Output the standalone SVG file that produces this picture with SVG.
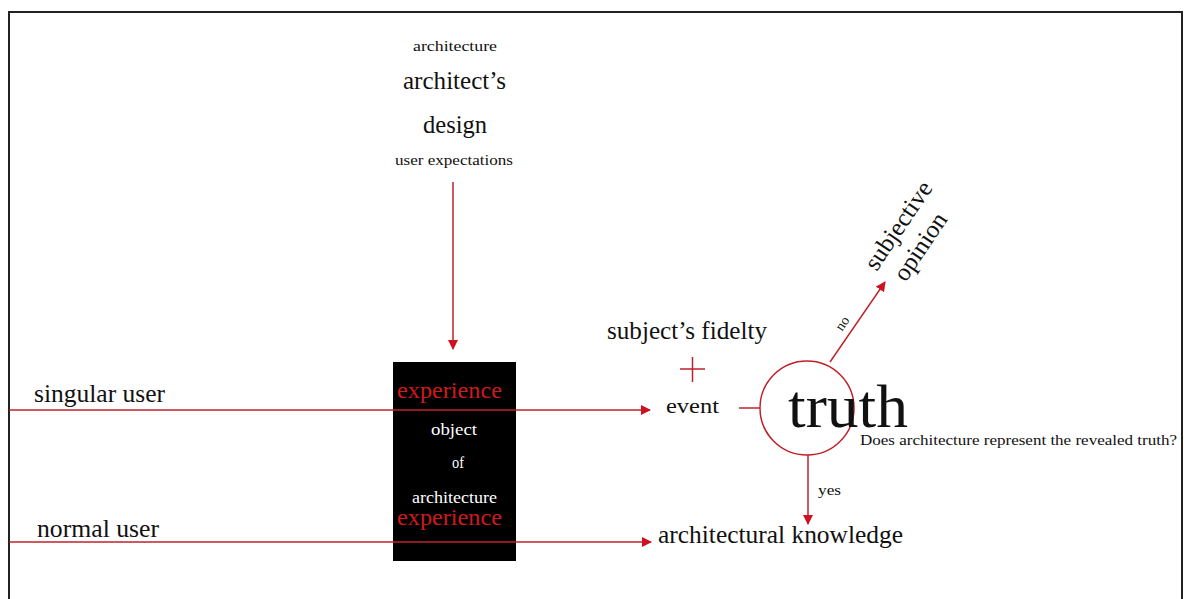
<svg xmlns="http://www.w3.org/2000/svg" width="1184" height="599" viewBox="0 0 1184 599">
<defs>
<marker id="ah" viewBox="0 0 10 10" refX="9" refY="5" markerWidth="10" markerHeight="10" markerUnits="userSpaceOnUse" orient="auto"><path d="M0,0 L10,5 L0,10 z" fill="#d01020"/></marker>
<style>
text{font-family:"Liberation Serif","Times New Roman",serif;fill:#111}
.c{text-anchor:middle}
.red{fill:#d01a1a}
.wh{fill:#fff}
.ln{stroke:#c0202a;stroke-width:1.5;fill:none}
</style>
</defs>
<rect x="0" y="0" width="1184" height="599" fill="#fff"/>
<path d="M9,610 V12 H1182 V610" fill="none" stroke="#222" stroke-width="2"/>
<g id="top">
<text x="413" y="51" font-size="15" textLength="84" lengthAdjust="spacingAndGlyphs">architecture</text>
<text x="403" y="89" font-size="25" textLength="103" lengthAdjust="spacingAndGlyphs">architect’s</text>
<text x="423" y="133" font-size="25" textLength="64" lengthAdjust="spacingAndGlyphs">design</text>
<text x="395" y="165" font-size="15" textLength="118" lengthAdjust="spacingAndGlyphs">user expectations</text>
</g>
<g id="box">
<rect x="393" y="362" width="123" height="199" fill="#000"/>
<text class="red" x="397" y="398" font-size="24" textLength="105" lengthAdjust="spacingAndGlyphs">experience</text>
<text class="wh" x="431" y="435" font-size="16" textLength="46" lengthAdjust="spacingAndGlyphs">object</text>
<text class="wh" x="452" y="468" font-size="16" textLength="12" lengthAdjust="spacingAndGlyphs">of</text>
<text class="wh" x="412" y="503" font-size="16" textLength="85" lengthAdjust="spacingAndGlyphs">architecture</text>
<text class="red" x="397" y="525" font-size="24" textLength="105" lengthAdjust="spacingAndGlyphs">experience</text>
</g>
<g id="connectors">
<line class="ln" x1="9" y1="410" x2="650" y2="410" marker-end="url(#ah)"/>
<line class="ln" x1="9" y1="542" x2="651" y2="542" marker-end="url(#ah)"/>
<line class="ln" x1="453" y1="182" x2="453" y2="349" marker-end="url(#ah)"/>
<line class="ln" x1="739" y1="408" x2="760" y2="408" stroke-width="2.5"/>
<line class="ln" x1="830" y1="362" x2="885" y2="282" marker-end="url(#ah)"/>
<line class="ln" x1="808" y1="455" x2="808" y2="524" marker-end="url(#ah)"/>
<text class="c" x="846" y="326" font-size="14" transform="rotate(-55 846 326)">no</text>
<text x="818" y="495" font-size="15" textLength="23" lengthAdjust="spacingAndGlyphs">yes</text>
</g>
<g id="singular"><text x="34" y="402" font-size="25" textLength="131" lengthAdjust="spacingAndGlyphs">singular user</text></g>
<g id="normal"><text x="37" y="537" font-size="25" textLength="122" lengthAdjust="spacingAndGlyphs">normal user</text></g>
<g id="fidelity">
<text x="607" y="339" font-size="25" textLength="160" lengthAdjust="spacingAndGlyphs">subject’s fidelty</text>
<path class="ln" d="M680,369 H705 M692.5,357 V382" stroke-width="2"/>
<text x="666" y="413" font-size="22" textLength="53" lengthAdjust="spacingAndGlyphs">event</text>
</g>
<g id="truth">
<circle cx="807" cy="408" r="47" fill="none" stroke="#c0202a" stroke-width="1.5"/>
<text x="788" y="427" font-size="62" textLength="120" lengthAdjust="spacingAndGlyphs">truth</text>
<text x="860" y="445" font-size="15" textLength="317" lengthAdjust="spacingAndGlyphs">Does architecture represent the revealed truth?</text>
</g>
<g id="opinion">
<text class="c" x="905" y="230" font-size="25" transform="rotate(-56 905 230)">subjective</text>
<text class="c" x="927" y="251" font-size="25" transform="rotate(-56 927 251)">opinion</text>
</g>
<g id="knowledge"><text x="658" y="543" font-size="25" textLength="245" lengthAdjust="spacingAndGlyphs">architectural knowledge</text></g>
</svg>
